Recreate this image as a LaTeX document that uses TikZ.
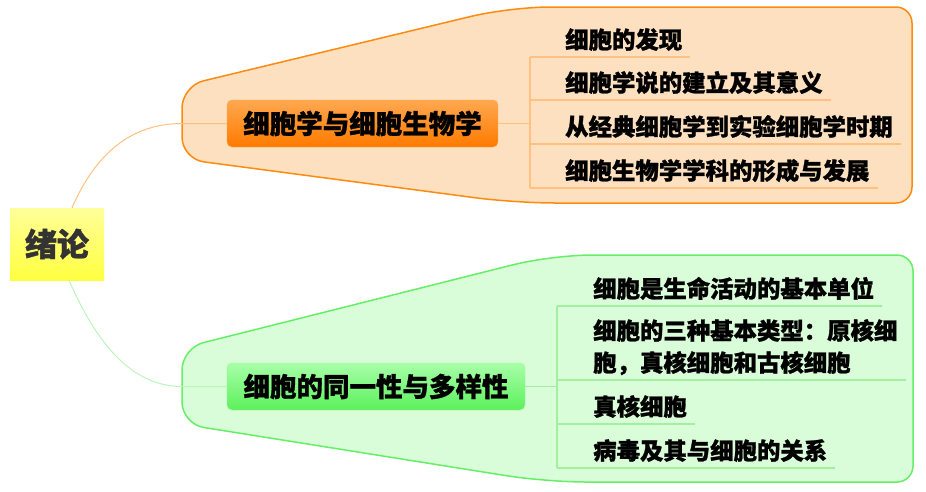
\documentclass[tikz,border=0pt]{standalone}
\usepackage{fontspec}
\newfontfamily\cjk{Noto Sans CJK SC}[BoldFeatures={FakeBold=1.2}]
\definecolor{oFill}{HTML}{FDE0C0}
\definecolor{oLine}{HTML}{FF8A10}
\definecolor{oLight}{HTML}{FFC080}
\definecolor{oTop}{HTML}{FFA850}
\definecolor{oBot}{HTML}{FF7A00}
\definecolor{gFill}{HTML}{D9FCD9}
\definecolor{gLine}{HTML}{66EE66}
\definecolor{gLight}{HTML}{A0F0A0}
\definecolor{gTop}{HTML}{A8FFA8}
\definecolor{gBot}{HTML}{5CF05C}
\definecolor{yTop}{HTML}{FFFF99}
\definecolor{yBot}{HTML}{FFFF40}
\tikzset{
  balloon/.style={line width=1.5pt},
  maintopic/.style={rounded corners=5pt, inner sep=0pt, minimum height=47pt,
     font=\cjk\bfseries\fontsize{26.5}{30}\selectfont, text=black},
  subtopic/.style={anchor=south west, inner xsep=0pt, inner ysep=8.3pt, text depth=0pt,
     align=left, font=\cjk\bfseries\fontsize{23.4}{32}\selectfont, text=black},
  rootbox/.style={top color=yTop, bottom color=yBot, minimum width=94pt, minimum height=72pt,
     inner sep=0pt, font=\cjk\bfseries\fontsize{32}{36}\selectfont, text=black!80},
}
\begin{document}
\begin{tikzpicture}[x=1pt,y=-1pt]
\useasboundingbox (0,0) rectangle (926,491);
% balloons
\draw[balloon, draw=oLine, fill=oFill] (182,124) [rounded corners=22pt] -- (182,86)
  [rounded corners=40pt] -- (510,7) [rounded corners=16pt] -- (912,7) -- (912,203)
  [rounded corners=40pt] -- (515,203) [rounded corners=22pt] -- (182,159) [sharp corners] -- cycle;
\draw[balloon, draw=gLine, fill=gFill] (182,386) [rounded corners=22pt] -- (182,348)
  [rounded corners=40pt] -- (552,255) [rounded corners=16pt] -- (913,255) -- (913,482)
  [rounded corners=40pt] -- (546,482) [rounded corners=22pt] -- (182,424) [sharp corners] -- cycle;

% root
\node[rootbox] (root) at (57,244) {绪论};

% main topics
\node[maintopic, draw=oTop, top color=oTop, bottom color=oBot, minimum width=271pt] (om) at (362.5,123.5) {细胞学与细胞生物学};
\node[maintopic, draw=gTop!80!gBot, top color=gTop, bottom color=gBot, minimum width=298pt] (gm) at (376,386.5) {细胞的同一性与多样性};

% connectors
\coordinate (oin) at (182,123.5);
\coordinate (gin) at (182,386.5);
\draw[oLight, line width=1pt] ([xshift=15pt]root.north) .. controls (95,155) and (130,123.5) .. (oin) -- (om.west);
\draw[gLight!70!white, line width=1pt] ([xshift=12pt]root.south) .. controls (95,340) and (130,386.5) .. (gin) -- (gm.west);

% orange subtopics
\node[subtopic] (o1) at (565,57) {细胞的发现};
\node[subtopic] (o2) at (565,100) {细胞学说的建立及其意义};
\node[subtopic] (o3) at (565,144) {从经典细胞学到实验细胞学时期};
\node[subtopic] (o4) at (565,188) {细胞生物学学科的形成与发展};
\coordinate (ob) at (530,123.5);
\draw[oLight, line width=1.3pt] (om.east) -- (ob);
\draw[oLight, line width=1.3pt] (ob |- o1.south) -- (ob |- o4.south);
\foreach \n in {o1,o2,o3,o4}
  \draw[oLight, line width=1.3pt] (ob |- \n.south) -- ([xshift=8pt]\n.south east);

% green subtopics
\node[subtopic] (g1) at (593,306) {细胞是生命活动的基本单位};
\node[subtopic] (g2) at (593,380) {细胞的三种基本类型：原核细\\胞，真核细胞和古核细胞};
\node[subtopic] (g3) at (593,424) {真核细胞};
\node[subtopic] (g4) at (593,468) {病毒及其与细胞的关系};
\coordinate (gb) at (557,386.5);
\draw[gLight, line width=1.3pt] (gm.east) -- (gb);
\draw[gLight, line width=1.3pt] (gb |- g1.south) -- (gb |- g4.south);
\foreach \n in {g1,g2,g3,g4}
  \draw[gLight, line width=1.3pt] (gb |- \n.south) -- ([xshift=8pt]\n.south east);
\end{tikzpicture}
\end{document}
